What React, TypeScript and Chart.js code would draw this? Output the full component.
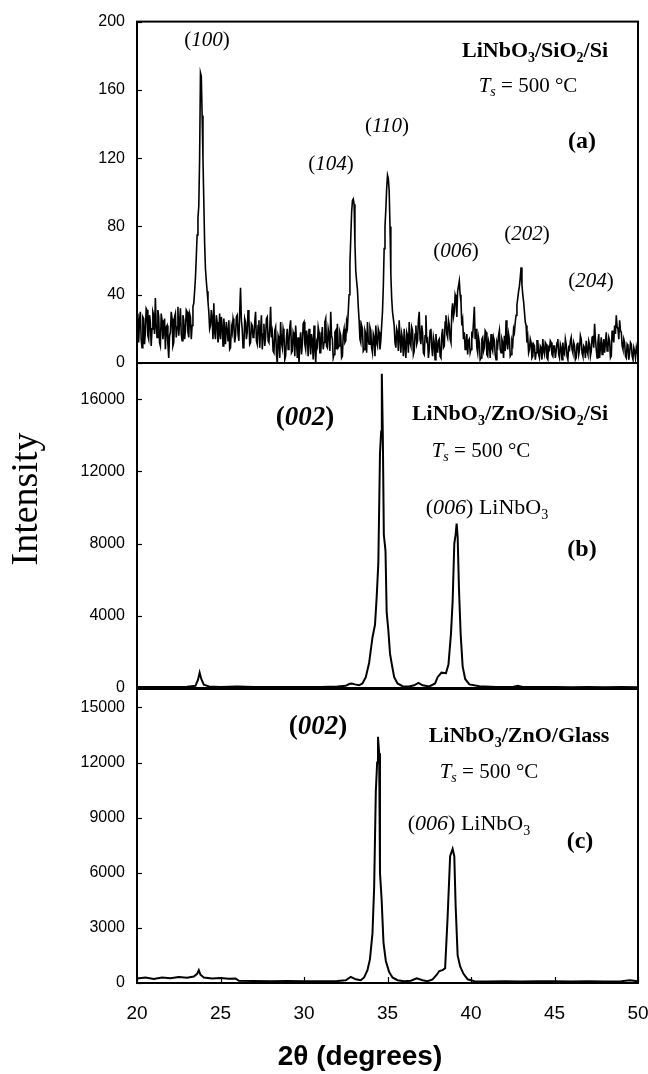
import React, { useEffect, useRef } from "react";
import { Chart, registerables } from "chart.js";
Chart.register(...registerables);

// ---------- DATA ----------
const X_MIN = 20;
const X_MAX = 50;
const xTickValues = [20, 25, 30, 35, 40, 45, 50];

// Panel (a) LiNbO3/SiO2/Si : 2θ from 20.00 to 50.00, one reading every 0.05° (one row = 1°)
const startA = 20.0;
const stepA = 0.05;
const intensityA = [
  22, 29, 12, 25, 30, 14, 9, 27, 26, 11, 18, 32, 31, 16, 14, 28, 24, 10, 20, 30,
  28, 17, 38, 22, 15, 31, 27, 12, 10, 29, 25, 14, 19, 26, 8, 21, 22, 11, 3, 16,
  18, 30, 26, 10, 12, 27, 29, 15, 21, 33, 16, 24, 32, 17, 13, 28, 25, 14, 19, 31,
  30, 18, 15, 29, 27, 14, 22, 33, 35, 42, 50, 62, 75, 85, 92, 120, 170, 168, 145, 120,
  95, 70, 55, 48, 42, 36, 30, 20, 22, 31, 26, 14, 35, 18, 14, 28, 24, 12, 17, 29,
  14, 27, 22, 10, 26, 19, 11, 24, 20, 13, 25, 8, 9, 21, 18, 26, 23, 12, 16, 27,
  28, 17, 13, 30, 44, 25, 20, 9, 10, 26, 24, 14, 18, 31, 27, 11, 12, 23, 22, 15,
  16, 24, 30, 13, 11, 22, 25, 9, 19, 28, 8, 17, 23, 10, 15, 26, 27, 13, 12, 20,
  33, 15, 18, 7, 6, 19, 21, 5, 0, 16, 14, 3, 24, 12, 9, 20, 17, 2, 4, 15,
  20, 8, 12, 21, 25, 6, 7, 18, 16, 4, 22, 13, 3, 15, 0, 12, 18, 5, 11, 23,
  24, 11, 8, 19, 15, 4, 20, 14, 5, 17, 13, 2, 22, 9, 0, 12, 10, 21, 18, 6,
  6, 15, 21, 8, 12, 24, 26, 10, 9, 20, 17, 7, 30, 16, 14, 3, 5, 18, 19, 8,
  23, 9, 10, 18, 16, 3, 4, 17, 20, 12, 13, 24, 21, 30, 40, 58, 73, 88, 95, 96,
  93, 70, 54, 48, 43, 33, 25, 14, 12, 22, 20, 7, 8, 19, 17, 6, 24, 13, 11, 21,
  19, 9, 6, 17, 15, 4, 22, 12, 10, 20, 18, 8, 13, 22, 30, 45, 67, 80, 90, 102,
  110, 108, 101, 80, 52, 38, 30, 26, 22, 12, 9, 20, 18, 7, 25, 15, 6, 17, 14, 4,
  20, 9, 3, 18, 16, 6, 24, 12, 10, 21, 19, 5, 7, 17, 22, 11, 13, 25, 30, 14,
  11, 22, 18, 6, 5, 16, 28, 13, 14, 3, 8, 19, 20, 9, 4, 15, 12, 2, 17, 10,
  6, 13, 14, 4, 3, 16, 20, 9, 10, 24, 28, 17, 15, 25, 22, 14, 12, 30, 35, 27,
  30, 40, 38, 27, 42, 45, 48, 40, 36, 22, 25, 14, 18, 8, 12, 17, 5, 13, 14, 6,
  8, 17, 16, 24, 33, 14, 20, 9, 6, 15, 12, 2, 3, 14, 15, 7, 9, 19, 18, 5,
  4, 13, 11, 3, 17, 9, 7, 15, 13, 5, 2, 12, 10, 16, 19, 8, 6, 14, 12, 3,
  16, 7, 25, 12, 8, 17, 14, 4, 5, 13, 11, 20, 18, 24, 28, 34, 38, 42, 45, 50,
  56, 46, 40, 36, 30, 24, 22, 12, 15, 6, 8, 14, 12, 3, 4, 11, 10, 2, 6, 13,
  13, 5, 3, 10, 9, 2, 14, 7, 5, 12, 11, 3, 2, 9, 8, 13, 12, 5, 4, 10,
  10, 3, 7, 12, 14, 5, 3, 11, 9, 2, 12, 6, 5, 14, 11, 4, 2, 9, 8, 13,
  15, 8, 6, 12, 10, 2, 3, 11, 12, 5, 8, 16, 14, 6, 4, 10, 9, 3, 13, 7,
  5, 13, 11, 4, 7, 15, 16, 9, 23, 14, 8, 3, 12, 17, 3, 9, 15, 5, 10, 14,
  6, 12, 18, 7, 9, 15, 13, 3, 4, 19, 16, 12, 22, 17, 28, 21, 20, 14, 25, 19,
  18, 10, 8, 14, 12, 4, 3, 11, 10, 2, 6, 12, 11, 4, 2, 9, 7, 3, 9, 6,
  5,
];

// Panel (b) LiNbO3/ZnO/SiO2/Si
const twoThetaB = [
  20, 21, 22, 23, 23.5, 23.65, 23.75, 23.85, 24.0, 24.3,
  25, 26, 27, 28, 29, 30, 31, 32, 32.5, 32.7,
  32.85, 33.05, 33.3, 33.5, 33.7, 33.9, 34.1, 34.25, 34.35, 34.45,
  34.55, 34.62, 34.66, 34.72, 34.78, 34.88, 34.95, 35.05, 35.15, 35.26,
  35.4, 35.6, 35.9, 36.3, 36.6, 36.85, 37.1, 37.5, 37.85, 38.0,
  38.23, 38.5, 38.65, 38.8, 38.9, 39.0, 39.08, 39.14, 39.2, 39.28,
  39.38, 39.5, 39.65, 39.9, 40.5, 41.5, 42.5, 42.8, 43.1, 44,
  45, 46, 47, 48, 49, 50,
];
const intensityB = [
  60, 50, 60, 70, 120, 450, 850, 500, 180, 90,
  60, 80, 50, 60, 50, 60, 60, 80, 120, 220,
  250, 200, 150, 250, 600, 1400, 2800, 3500, 5000, 6900,
  13000, 14200, 17400, 14000, 8500, 7600, 4200, 3200, 1900, 1300,
  600, 250, 100, 80, 150, 280, 150, 90, 250, 600,
  850, 820, 1300, 3000, 4800, 8000, 8500, 9100, 8400, 5500,
  3000, 1200, 500, 200, 100, 60, 60, 120, 60, 50,
  50, 40, 50, 40, 50, 40,
];

// Panel (c) LiNbO3/ZnO/Glass
const twoThetaC = [
  20, 20.5, 21, 21.5, 22, 22.5, 23, 23.4, 23.6, 23.7,
  23.8, 24.0, 24.5, 25, 25.5, 25.9, 26.1, 27, 28, 29,
  30, 31, 32, 32.5, 32.8, 33.1, 33.4, 33.6, 33.8, 33.95,
  34.1, 34.2, 34.3, 34.38, 34.43, 34.5, 34.55, 34.65, 34.76, 34.9,
  35.1, 35.3, 35.6, 36.0, 36.4, 36.75, 37.1, 37.4, 37.7, 37.95,
  38.1, 38.3, 38.45, 38.6, 38.75, 38.9, 39.0, 39.08, 39.2, 39.35,
  39.55, 39.8, 40.2, 41, 42, 43, 44, 45, 46, 47,
  48, 49, 49.5, 50,
];
const intensityC = [
  250, 300, 220, 300, 260, 320, 280, 350, 500, 700,
  450, 300, 250, 270, 230, 250, 120, 110, 100, 110,
  100, 100, 110, 150, 330, 200, 150, 300, 700, 1300,
  2700, 5200, 10400, 12000, 13400, 12500, 6000, 4500, 2200, 1200,
  600, 300, 150, 100, 120, 250, 150, 100, 200, 450,
  650, 700, 800, 3600, 6900, 7300, 6900, 4200, 1500, 900,
  500, 200, 100, 80, 90, 80, 90, 100, 80, 90,
  80, 100, 150, 90,
];

// axis ranges / tick labels
const yMaxA = 200;
const yTicksA = [0, 40, 80, 120, 160, 200];
const yMaxB = 18000;
const yTicksB = [0, 4000, 8000, 12000, 16000];
const yMaxC = 16000;
const yTicksC = [0, 3000, 6000, 9000, 12000, 15000];

// ---------- TEXT HELPERS ----------
const SERIF = '"Liberation Serif", "Times New Roman", serif';
const SANS = '"Liberation Sans", Arial, sans-serif';
type Seg = { t: string; font: string; dy?: number };
const fnt = (size: number, style = "") => `${style} ${size}px ${SERIF}`.trim();

function chem(str: string, size: number, bold: boolean): Seg[] {
  const w = bold ? "bold" : "";
  return str
    .split(/(\d+)/)
    .filter((s) => s.length)
    .map((s) =>
      /^\d+$/.test(s)
        ? { t: s, font: fnt(Math.round(size * 0.62), w), dy: size * 0.22 }
        : { t: s, font: fnt(size, w) }
    );
}
function hkl(d: string, size: number, bold: boolean): Seg[] {
  const w = bold ? "bold" : "";
  return [
    { t: "(", font: fnt(size, w) },
    { t: d, font: fnt(size, bold ? "italic bold" : "italic") },
    { t: ")", font: fnt(size, w) },
  ];
}
function tsLabel(size: number): Seg[] {
  return [
    { t: "T", font: fnt(size, "italic") },
    { t: "s", font: fnt(Math.round(size * 0.65), "italic"), dy: size * 0.2 },
    { t: " = 500 °C", font: fnt(size) },
  ];
}
function drawSegs(ctx: CanvasRenderingContext2D, segs: Seg[], cx: number, cy: number, size: number) {
  let w = 0;
  segs.forEach((s) => {
    ctx.font = s.font;
    w += ctx.measureText(s.t).width;
  });
  let x = cx - w / 2;
  const base = cy + size * 0.33;
  ctx.textAlign = "left";
  ctx.textBaseline = "alphabetic";
  ctx.fillStyle = "#000";
  segs.forEach((s) => {
    ctx.font = s.font;
    ctx.fillText(s.t, x, base + (s.dy || 0));
    x += ctx.measureText(s.t).width;
  });
}

type Label = { segs: Seg[]; x: number; y: number; size: number };

function makeDecor(id: string, labels: Label[], xTicksInward: boolean, extra?: (ctx: CanvasRenderingContext2D) => void) {
  return {
    id,
    afterDraw(chart: any) {
      const { ctx, chartArea: a, scales } = chart;
      ctx.save();
      ctx.strokeStyle = "#000";
      ctx.lineWidth = 1.2;
      const ys = scales.y;
      ys.ticks.forEach((_t: any, i: number) => {
        const py = Math.round(ys.getPixelForTick(i)) + 0.5;
        ctx.beginPath();
        ctx.moveTo(a.left, py);
        ctx.lineTo(a.left + 5, py);
        ctx.stroke();
      });
      if (xTicksInward) {
        const xs = scales.x;
        xs.ticks.forEach((_t: any, i: number) => {
          const px = Math.round(xs.getPixelForTick(i)) + 0.5;
          ctx.beginPath();
          ctx.moveTo(px, a.bottom);
          ctx.lineTo(px, a.bottom - 6);
          ctx.stroke();
        });
      }
      ctx.lineWidth = 2;
      ctx.strokeRect(a.left, a.top, a.right - a.left, a.bottom - a.top);
      labels.forEach((l) => drawSegs(ctx, l.segs, l.x, l.y, l.size));
      if (extra) extra(ctx);
      ctx.restore();
    },
  };
}

function panelConfig(opts: {
  points: { x: number; y: number }[];
  yMax: number;
  yTicks: number[];
  top: number;
  bottom: number;
  showX: boolean;
  lineWidth: number;
  plugin: any;
}) {
  return {
    type: "line" as const,
    data: {
      datasets: [
        {
          data: opts.points,
          borderColor: "#000",
          borderWidth: opts.lineWidth,
          pointRadius: 0,
          tension: 0,
          fill: false,
        },
      ],
    },
    options: {
      animation: false as const,
      responsive: false,
      maintainAspectRatio: false,
      devicePixelRatio: 1,
      events: [] as any[],
      layout: { padding: { left: 0, right: 10, top: opts.top, bottom: opts.bottom } },
      plugins: { legend: { display: false }, tooltip: { enabled: false } },
      scales: {
        x: {
          type: "linear" as const,
          min: X_MIN,
          max: X_MAX,
          display: opts.showX,
          grid: { display: false, drawTicks: false },
          border: { display: false },
          afterBuildTicks: (s: any) => {
            s.ticks = xTickValues.map((v) => ({ value: v }));
          },
          ticks: {
            color: "#000",
            font: { family: SANS, size: 19 },
            padding: 19,
            maxRotation: 0,
            autoSkip: false,
            callback: (v: any) => String(v),
          },
          afterFit: (s: any) => {
            if (opts.showX) s.height = 91;
            s.paddingLeft = 0;
            s.paddingRight = 0;
          },
        },
        y: {
          type: "linear" as const,
          min: 0,
          max: opts.yMax,
          grid: { display: false, drawTicks: false },
          border: { display: false },
          afterBuildTicks: (s: any) => {
            s.ticks = opts.yTicks.map((v) => ({ value: v }));
          },
          ticks: {
            color: "#000",
            font: { family: SANS, size: 16 },
            padding: 12,
            callback: (v: any) => String(v),
          },
          afterFit: (s: any) => {
            s.width = 137;
          },
        },
      },
    },
    plugins: [opts.plugin],
  };
}

export default function App() {
  const refA = useRef<HTMLCanvasElement>(null);
  const refB = useRef<HTMLCanvasElement>(null);
  const refC = useRef<HTMLCanvasElement>(null);

  useEffect(() => {
    const ptsA = intensityA.map((v, i) => ({ x: +(startA + i * stepA).toFixed(2), y: v }));
    const ptsB = twoThetaB.map((x, i) => ({ x, y: intensityB[i] }));
    const ptsC = twoThetaC.map((x, i) => ({ x, y: intensityC[i] }));

    const labelsA: Label[] = [
      { segs: hkl("100", 21, false), x: 207, y: 39, size: 21 },
      { segs: hkl("104", 21, false), x: 331, y: 163, size: 21 },
      { segs: hkl("110", 21, false), x: 387, y: 125, size: 21 },
      { segs: hkl("006", 21, false), x: 456, y: 250, size: 21 },
      { segs: hkl("202", 21, false), x: 527, y: 233, size: 21 },
      { segs: hkl("204", 21, false), x: 591, y: 280, size: 21 },
      { segs: chem("LiNbO3/SiO2/Si", 22, true), x: 535, y: 50, size: 22 },
      { segs: tsLabel(21), x: 528, y: 85, size: 21 },
      { segs: [{ t: "(a)", font: fnt(24, "bold") }], x: 582, y: 140, size: 24 },
    ];
    const labelsB: Label[] = [
      { segs: hkl("002", 27, true), x: 305, y: 416, size: 27 },
      { segs: chem("LiNbO3/ZnO/SiO2/Si", 22, true), x: 510, y: 413, size: 22 },
      { segs: tsLabel(21), x: 481, y: 450, size: 21 },
      { segs: [...hkl("006", 22, false), ...chem(" LiNbO3", 22, false)], x: 487, y: 507, size: 22 },
      { segs: [{ t: "(b)", font: fnt(24, "bold") }], x: 582, y: 548, size: 24 },
    ];
    const labelsC: Label[] = [
      { segs: hkl("002", 27, true), x: 318, y: 725, size: 27 },
      { segs: chem("LiNbO3/ZnO/Glass", 22, true), x: 519, y: 735, size: 22 },
      { segs: tsLabel(21), x: 489, y: 771, size: 21 },
      { segs: [...hkl("006", 22, false), ...chem(" LiNbO3", 22, false)], x: 469, y: 823, size: 22 },
      { segs: [{ t: "(c)", font: fnt(24, "bold") }], x: 580, y: 840, size: 24 },
    ];

    const yTitle = (ctx: CanvasRenderingContext2D) => {
      ctx.save();
      ctx.translate(27, 499);
      ctx.rotate(-Math.PI / 2);
      ctx.font = `38px ${SERIF}`;
      ctx.textAlign = "center";
      ctx.textBaseline = "middle";
      ctx.fillStyle = "#000";
      ctx.fillText("Intensity", 0, 0);
      ctx.restore();
    };
    const xTitle = (ctx: CanvasRenderingContext2D) => {
      ctx.font = `bold 28px ${SANS}`;
      ctx.textAlign = "center";
      ctx.textBaseline = "middle";
      ctx.fillStyle = "#000";
      ctx.fillText("2θ (degrees)", 360, 1057);
    };

    const charts = [
      new Chart(
        refA.current!,
        panelConfig({
          points: ptsA, yMax: yMaxA, yTicks: yTicksA, top: 16, bottom: 1074 - 363,
          showX: false, lineWidth: 1.6, plugin: makeDecor("decorA", labelsA, false),
        }) as any
      ),
      new Chart(
        refB.current!,
        panelConfig({
          points: ptsB, yMax: yMaxB, yTicks: yTicksB, top: 363, bottom: 1074 - 688,
          showX: false, lineWidth: 2, plugin: makeDecor("decorB", labelsB, false, yTitle),
        }) as any
      ),
      new Chart(
        refC.current!,
        panelConfig({
          points: ptsC, yMax: yMaxC, yTicks: yTicksC, top: 689, bottom: 0,
          showX: true, lineWidth: 2, plugin: makeDecor("decorC", labelsC, true, xTitle),
        }) as any
      ),
    ];
    return () => charts.forEach((c) => c.destroy());
  }, []);

  const cs: React.CSSProperties = { position: "absolute", left: 0, top: 0 };
  return (
    <div style={{ position: "absolute", left: 0, top: 0, width: 648, height: 1074, background: "#fff" }}>
      <canvas ref={refA} width={648} height={1074} style={cs} />
      <canvas ref={refB} width={648} height={1074} style={cs} />
      <canvas ref={refC} width={648} height={1074} style={cs} />
    </div>
  );
}
